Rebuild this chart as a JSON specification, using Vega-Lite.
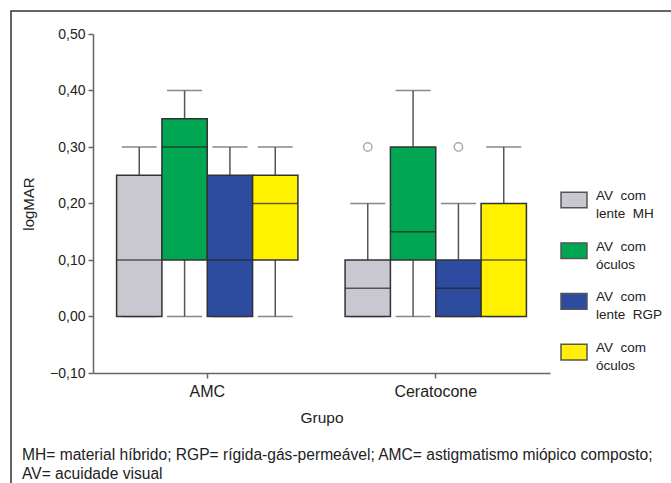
{
  "$schema": "https://vega.github.io/schema/vega-lite/v6.json",
  "width": 670,
  "height": 482,
  "autosize": {"type": "none"},
  "padding": {"left": 11, "top": 11, "right": -10, "bottom": -10},
  "background": "white",
  "config": {
    "font": "Liberation Sans",
    "view": {"stroke": "#333", "strokeWidth": 1.5},
    "axis": {"grid": false, "domainColor": "#666", "tickColor": "#666", "domainWidth": 1.5, "tickWidth": 1.5, "labelColor": "#222", "titleColor": "#222", "labelFont": "Liberation Sans", "titleFont": "Liberation Sans", "titleFontWeight": "normal"}
  },
  "title": {
    "text": ["MH= material híbrido; RGP= rígida-gás-permeável; AMC= astigmatismo miópico composto;", "AV= acuidade visual"],
    "orient": "bottom", "anchor": "start", "frame": "group", "offset": -45, "dx": 11,
    "fontSize": 15.6, "fontWeight": "normal", "font": "Liberation Sans", "lineHeight": 19, "color": "#222"
  },
  "datasets": {
    "boxes": [
      {"grupo": "AMC", "serie": "1", "min": 0, "q1": 0, "median": 0.10, "q3": 0.25, "max": 0.30},
      {"grupo": "AMC", "serie": "2", "min": 0, "q1": 0.10, "median": 0.30, "q3": 0.35, "max": 0.40},
      {"grupo": "AMC", "serie": "3", "min": 0, "q1": 0, "median": 0.10, "q3": 0.25, "max": 0.30},
      {"grupo": "AMC", "serie": "4", "min": 0, "q1": 0.10, "median": 0.20, "q3": 0.25, "max": 0.30},
      {"grupo": "Ceratocone", "serie": "1", "min": 0, "q1": 0, "median": 0.05, "q3": 0.10, "max": 0.20},
      {"grupo": "Ceratocone", "serie": "2", "min": 0, "q1": 0.10, "median": 0.15, "q3": 0.30, "max": 0.40},
      {"grupo": "Ceratocone", "serie": "3", "min": 0, "q1": 0, "median": 0.05, "q3": 0.10, "max": 0.20},
      {"grupo": "Ceratocone", "serie": "4", "min": 0, "q1": 0, "median": 0.10, "q3": 0.20, "max": 0.30}
    ],
    "outliers": [
      {"grupo": "Ceratocone", "serie": "1", "valor": 0.30},
      {"grupo": "Ceratocone", "serie": "3", "valor": 0.30}
    ]
  },
  "encoding": {
    "x": {
      "field": "grupo", "type": "nominal",
      "scale": {"domain": ["AMC", "Ceratocone"], "range": [82, 539], "paddingInner": 0, "paddingOuter": 0},
      "axis": {"orient": "bottom", "offset": -120, "labelAngle": 0, "tickSize": 5, "labelFontSize": 16, "labelPadding": 5, "title": "Grupo", "titleFontSize": 15.5, "titlePadding": 11}
    },
    "xOffset": {
      "field": "serie", "type": "nominal",
      "scale": {"domain": ["1", "2", "3", "4"], "paddingInner": 0, "paddingOuter": 0.52}
    }
  },
  "layer": [
    {
      "data": {"name": "boxes"},
      "mark": {"type": "rule", "color": "#555", "strokeWidth": 1.5},
      "encoding": {
        "y": {"field": "min", "type": "quantitative",
          "scale": {"domain": [-0.1, 0.5], "range": [362, 23], "nice": false, "zero": false},
          "axis": {"orient": "left", "offset": -82, "values": [-0.1, 0, 0.1, 0.2, 0.3, 0.4, 0.5], "labelExpr": "replace(format(datum.value, '.2f'), '.', ',')", "tickSize": 5, "labelFontSize": 14, "labelPadding": 3, "title": "logMAR", "titleFontSize": 15, "titlePadding": 13}},
        "y2": {"field": "max"}
      }
    },
    {
      "data": {"name": "boxes"},
      "mark": {"type": "tick", "color": "#555", "thickness": 1.5, "size": 35, "orient": "horizontal"},
      "encoding": {"y": {"field": "max", "type": "quantitative"}}
    },
    {
      "data": {"name": "boxes"},
      "mark": {"type": "tick", "color": "#555", "thickness": 1.5, "size": 35, "orient": "horizontal"},
      "encoding": {"y": {"field": "min", "type": "quantitative"}}
    },
    {
      "data": {"name": "boxes"},
      "mark": {"type": "bar", "stroke": "#333", "strokeWidth": 1.5},
      "encoding": {
        "y": {"field": "q1", "type": "quantitative"},
        "y2": {"field": "q3"},
        "color": {
          "field": "serie", "type": "nominal",
          "scale": {"domain": ["1", "2", "3", "4"], "range": ["#C9C7CF", "#00A651", "#2E4C9F", "#FFF100"]},
          "legend": {
            "orient": "none", "legendX": 549, "legendY": 175, "title": null, "padding": 0,
            "symbolType": "M-1,-0.6H1V0.6H-1Z", "symbolSize": 676, "symbolStrokeColor": "#555", "symbolStrokeWidth": 1.5,
            "labelExpr": "datum.label == '1' ? ['AV\u00a0\u00a0com', 'lente\u00a0\u00a0MH'] : datum.label == '3' ? ['AV\u00a0\u00a0com', 'lente\u00a0\u00a0RGP'] : ['AV\u00a0\u00a0com', 'óculos']",
            "labelFontSize": 13.5, "labelColor": "#222", "labelOffset": 8, "rowPadding": 15.7, "labelFont": "Liberation Sans",
            "encode": {"labels": {"update": {"lineHeight": {"value": 18}, "dy": {"value": -4}}}}
          }
        }
      }
    },
    {
      "data": {"name": "boxes"},
      "mark": {"type": "tick", "color": "#222", "thickness": 1.5, "orient": "horizontal", "size": 45},
      "encoding": {"y": {"field": "median", "type": "quantitative"}}
    },
    {
      "data": {"name": "outliers"},
      "mark": {"type": "point", "shape": "circle", "filled": false, "color": "#888", "strokeWidth": 1.5, "size": 70},
      "encoding": {"y": {"field": "valor", "type": "quantitative"}}
    }
  ]
}
